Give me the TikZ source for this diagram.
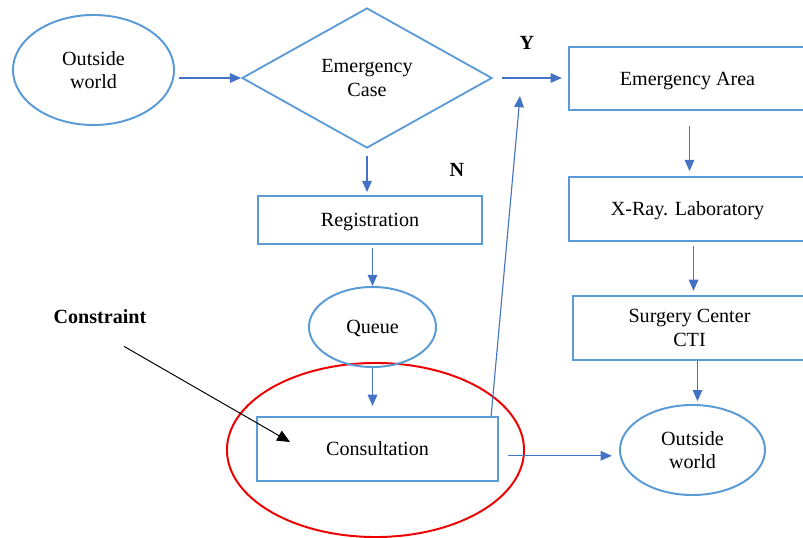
\documentclass[tikz,border=0pt]{standalone}
\usepackage{fontspec}
\setmainfont{Liberation Serif}
\usepackage{tikz}
\usetikzlibrary{shapes.geometric, arrows.meta, positioning, calc}
\definecolor{myblue}{RGB}{91,155,213}
\definecolor{myarrow}{RGB}{68,114,196}
\definecolor{myred}{RGB}{238,0,0}
\newcommand{\flowfont}{\fontsize{14.3}{17}\selectfont}
\tikzset{
  block/.style={rectangle, draw=myblue, align=center, inner sep=0pt,
    font=\flowfont, line width=1.6pt, text depth=0pt},
  startstop/.style={ellipse, draw=myblue, align=center, inner sep=0pt,
    font=\flowfont, line width=1.4pt, text depth=0pt},
  decision/.style={diamond, draw=myblue, align=center, inner sep=0pt,
    font=\flowfont, line width=1.3pt, text depth=0pt},
  redring/.style={ellipse, draw=myred, line width=1.4pt, inner sep=0pt},
  tag/.style={font=\flowfont\bfseries, inner sep=0pt},
  arrow/.style={-{Triangle[length=0.28cm, width=0.24cm]}, line width=0.8pt, color=myarrow},
  blackarrow/.style={-{Triangle[length=0.32cm, width=0.28cm]}, line width=0.7pt, color=black}
}

\begin{document}
\begin{tikzpicture}[x=0.025cm, y=-0.025cm]
  \useasboundingbox (0,0) rectangle (803,538);

  \node[redring, minimum width=7.425cm, minimum height=4.35cm] (focus) at (375.5,450) {};

  \node[startstop, minimum width=4.025cm, minimum height=2.75cm] (world) at (93.5,70) {Outside\\world};
  \node[decision, minimum width=6.25cm, minimum height=3.5cm] (emcase) at (367,78) {Emergency\\Case};
  \node[block, minimum width=5.925cm, minimum height=1.575cm] (emarea) at (687.5,78.5) {Emergency Area};
  \node[block, minimum width=5.6cm, minimum height=1.2cm] (reg) at (370,220) {Registration};
  \node[startstop, minimum width=3.175cm, minimum height=2cm] (queue) at (372.5,327) {Queue};
  \node[block, minimum width=6.025cm, minimum height=1.6cm] (consult) at (377.5,449) {Consultation};
  \node[block, minimum width=5.925cm, minimum height=1.6cm] (xray) at (687.5,209) {X-Ray. Laboratory};
  \node[block, minimum width=5.825cm, minimum height=1.6cm] (surgery) at (689.5,328) {Surgery Center\\CTI};
  \node[startstop, minimum width=3.625cm, minimum height=2.25cm] (exit) at (692.5,450) {Outside\\world};

  \node[tag] (constraint) at (100,317) {Constraint};
  \node[tag] (yes) at (527,43) {Y};
  \node[tag] (no) at (457,170) {N};
  \coordinate (ytip) at (520,96);
  \coordinate (ctip) at (290,442);

  \draw[arrow, shorten <=0.1cm] (world.east |- emcase.west) -- (emcase.west);
  \draw[arrow, shorten <=0.225cm, shorten >=0.15cm] (emcase.east) -- (emcase.east -| emarea.west);
  \draw[arrow, shorten <=0.18cm, shorten >=0.07cm] (emcase.south) -- (emcase.south |- reg.north);
  \draw[arrow, shorten <=0.07cm] (queue.north |- reg.south) -- (queue.north);
  \draw[arrow, shorten >=0.25cm] (queue.south) -- (queue.south |- consult.north);
  \draw[arrow] ([xshift=-0.2cm]consult.north east) -- (ytip);
  \draw[arrow, shorten <=0.22cm, shorten >=0.18cm] ([yshift=-0.17cm]consult.east) -- ([yshift=-0.17cm]consult.east -| exit.west);
  \draw[arrow, shorten <=0.375cm, shorten >=0.12cm] ([xshift=0.05cm]emarea.south) -- ([xshift=0.05cm]emarea.south |- xray.north);
  \draw[arrow, shorten <=0.1cm, shorten >=0.1cm] ([xshift=0.15cm]xray.south) -- ([xshift=0.15cm]xray.south |- surgery.north);
  \draw[arrow, shorten >=0.07cm] ([xshift=0.2cm]surgery.south) -- ([xshift=0.2cm]surgery.south |- exit.north);
  \draw[blackarrow] ([xshift=0.6cm, yshift=-0.55cm]constraint.south) -- (ctip);
\end{tikzpicture}
\end{document}
